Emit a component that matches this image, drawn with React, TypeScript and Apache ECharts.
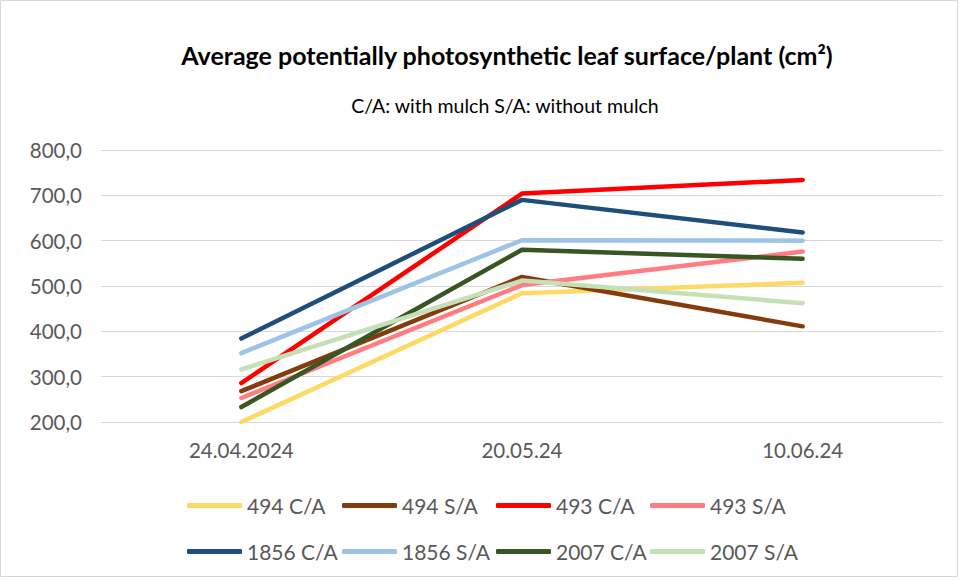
import React, { useEffect, useRef } from "react";
import * as echarts from "echarts";

const categories = ["24.04.2024", "20.05.24", "10.06.24"];
const seriesNames = ["494 C/A", "494 S/A", "493 C/A", "493 S/A", "1856 C/A", "1856 S/A", "2007 C/A", "2007 S/A"];
const v494CA = [200, 484, 507];
const v494SA = [268, 520, 411];
const v493CA = [286, 704, 734];
const v493SA = [253, 502, 576];
const v1856CA = [384, 690, 618];
const v1856SA = [352, 601, 600];
const v2007CA = [233, 580, 560];
const v2007SA = [316, 512, 462];
const yTicks = [200, 300, 400, 500, 600, 700, 800];

const values = [v494CA, v494SA, v493CA, v493SA, v1856CA, v1856SA, v2007CA, v2007SA];
const colors = ["#FFD966", "#843C0C", "#FF0000", "#FF7C80", "#1F4E79", "#9DC3E6", "#375623", "#C5E0B4"];

const FONT = "Lato, 'Open Sans', sans-serif";

export default function App() {
  const ref = useRef<HTMLDivElement>(null);
  useEffect(() => {
    document.body.style.margin = "0";
    const chart = echarts.init(ref.current!, null, { renderer: "svg" });
    const legendCols = [187, 342, 496, 650];
    const legendRows = [495, 541];
    const legends = seriesNames.map((n, i) => ({
      data: [n],
      left: legendCols[i % 4],
      top: legendRows[Math.floor(i / 4)],
      icon: "roundRect",
      itemWidth: 55,
      itemHeight: 5,
      itemGap: 0,
      padding: 0,
      textStyle: { fontFamily: FONT, fontSize: 21, color: "#595959" },
    }));
    chart.setOption({
      animation: false,
      backgroundColor: "#fff",
      legend: legends,
      graphic: [
        {
          type: "rect",
          shape: { x: 0.5, y: 0.5, width: 957, height: 576 },
          style: { fill: "none", stroke: "#d9d9d9", lineWidth: 1 },
          silent: true,
        },
        {
          type: "text",
          x: 507,
          y: 42,
          style: {
            text: "Average potentially photosynthetic leaf surface/plant (cm²)",
            align: "center",
            verticalAlign: "top",
            font: `bold 25px ${FONT}`,
            fill: "#000",
          },
        },
        {
          type: "text",
          x: 505,
          y: 95,
          style: {
            text: "C/A: with mulch S/A: without mulch",
            align: "center",
            verticalAlign: "top",
            font: `19.5px ${FONT}`,
            fill: "#000",
          },
        },
      ],
      grid: { left: 101, right: 18, top: 150, bottom: 158 },
      xAxis: {
        type: "category",
        data: categories,
        boundaryGap: true,
        axisLine: { show: false },
        axisTick: { show: false },
        axisLabel: { fontFamily: FONT, fontSize: 20.5, color: "#595959", margin: 17 },
      },
      yAxis: {
        type: "value",
        min: yTicks[0],
        max: yTicks[yTicks.length - 1],
        interval: 100,
        axisLine: { show: false },
        axisTick: { show: false },
        splitLine: { lineStyle: { color: "#d9d9d9", width: 1 } },
        axisLabel: {
          fontFamily: FONT,
          fontSize: 20.5,
          color: "#595959",
          margin: 19,
          formatter: (v: number) => v.toFixed(1).replace(".", ","),
        },
      },
      series: seriesNames.map((n, i) => ({
        name: n,
        type: "line",
        data: values[i],
        showSymbol: false,
        symbol: "none",
        color: colors[i],
        lineStyle: { color: colors[i], width: 4.5, cap: "round", join: "round" },
      })),
    });
    return () => chart.dispose();
  }, []);
  return <div ref={ref} style={{ position: "absolute", left: 0, top: 0, width: 961, height: 580 }} />;
}
